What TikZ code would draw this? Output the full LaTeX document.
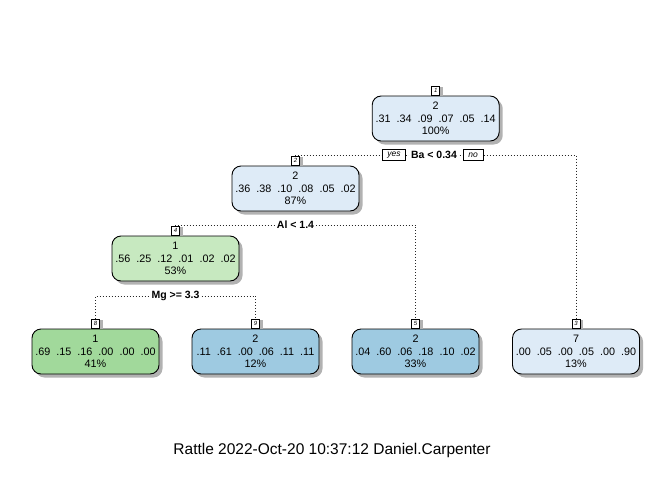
\documentclass[tikz,border=0pt]{standalone}
\usepackage{fontspec}
\setmainfont{Liberation Sans}
\usetikzlibrary{shadows}
\newcommand{\prow}[6]{#1\hspace{6pt}#2\hspace{6pt}#3\hspace{6pt}#4\hspace{6pt}#5\hspace{6pt}#6}
\definecolor{cblue1}{HTML}{DEEBF7}
\definecolor{cblue2}{HTML}{9ECAE1}
\definecolor{cgreen1}{HTML}{C7E9C0}
\definecolor{cgreen2}{HTML}{A1D99B}
\begin{document}
\begin{tikzpicture}[x=1pt,y=-1pt,
  tnode/.style={draw=black, line width=0.9pt, rounded corners=9pt, minimum width=127pt, minimum height=45pt,
    inner sep=0pt, align=center, font=\fontsize{10.8}{12.5}\selectfont,
    drop shadow={shadow xshift=3.5pt, shadow yshift=-3.5pt, fill=black!30, opacity=1}},
  nbox/.style={draw=black, line width=0.6pt, fill=white, inner sep=0pt, minimum width=8pt, minimum height=9pt,
    font=\fontsize{6}{6}\selectfont\itshape,
    drop shadow={shadow xshift=3pt, shadow yshift=-1pt, fill=black!30, opacity=1}},
  dl/.style={black!85, line width=0.8pt, dash pattern=on 0.8pt off 2.2pt},
  slab/.style={fill=white, inner xsep=2pt, inner ysep=1pt, font=\fontsize{10.5}{12}\selectfont\bfseries},
  ybox/.style={draw=black, line width=0.6pt, fill=white, inner xsep=5pt, inner ysep=0pt, minimum height=11pt,
    font=\fontsize{8.5}{9}\selectfont\itshape}]
\useasboundingbox (0,0) rectangle (672,480);

% tree nodes
\node[tnode, fill=cblue1] (n1) at (435.7,118.5) {2\\\prow{.31}{.34}{.09}{.07}{.05}{.14}\\100\%};
\node[tnode, fill=cblue1] (n2) at (295.5,188.5) {2\\\prow{.36}{.38}{.10}{.08}{.05}{.02}\\87\%};
\node[tnode, fill=cgreen1] (n4) at (175.5,258.5) {1\\\prow{.56}{.25}{.12}{.01}{.02}{.02}\\53\%};
\node[tnode, fill=cgreen2] (n8) at (95.5,351.5) {1\\\prow{.69}{.15}{.16}{.00}{.00}{.00}\\41\%};
\node[tnode, fill=cblue2] (n9) at (255.5,351.5) {2\\\prow{.11}{.61}{.00}{.06}{.11}{.11}\\12\%};
\node[tnode, fill=cblue2] (n5) at (415.5,351.5) {2\\\prow{.04}{.60}{.06}{.18}{.10}{.02}\\33\%};
\node[tnode, fill=cblue1] (n3) at (576,351.5) {7\\\prow{.00}{.05}{.00}{.05}{.00}{.90}\\13\%};

% node number boxes
\node[nbox, anchor=south] (b1) at (n1.north) {1};
\node[nbox, anchor=south] (b2) at (n2.north) {2};
\node[nbox, anchor=south] (b4) at (n4.north) {4};
\node[nbox, anchor=south] (b8) at (n8.north) {8};
\node[nbox, anchor=south] (b9) at (n9.north) {9};
\node[nbox, anchor=south] (b5) at (n5.north) {5};
\node[nbox, anchor=south] (b3) at (n3.north) {3};

% split junctions
\coordinate (j1) at (434,155);
\coordinate (j2) at (295.5,225);
\coordinate (j4) at (175.5,296);

% connectors
\draw[dl] (b2.north) |- (j1) -| (b3.north);
\draw[dl] (b4.north) |- (j2) -| (b5.north);
\draw[dl] (b8.north) |- (j4) -| (b9.north);

% split labels
\node[slab] (s1) at (j1) {Ba < 0.34};
\node[slab] (s2) at (j2) {Al < 1.4};
\node[slab] (s4) at (j4) {Mg >= 3.3};
\node[ybox, anchor=east] (yes1) at ([xshift=-3pt]s1.west) {yes};
\node[ybox, anchor=west] (no1) at ([xshift=4pt]s1.east) {no};

% title
\node[anchor=base, inner sep=0pt, font=\fontsize{15.5}{18}\selectfont] (title) at (332,454) {Rattle 2022-Oct-20 10:37:12 Daniel.Carpenter};
\end{tikzpicture}
\end{document}
